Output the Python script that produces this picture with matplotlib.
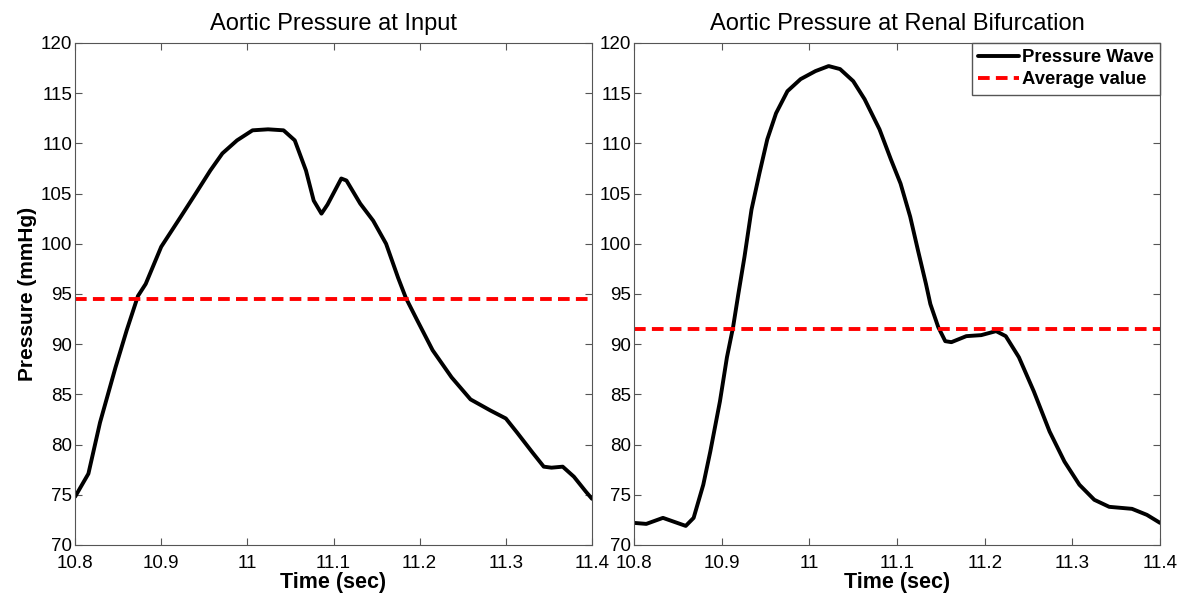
import numpy as np
import matplotlib
matplotlib.use("Agg")
import matplotlib.pyplot as plt

plt.rcParams['font.family'] = ['Liberation Sans', 'DejaVu Sans']

# pressure at input (left panel)
t_in = [10.8, 10.8155, 10.829, 10.847, 10.860, 10.873, 10.882, 10.900, 10.922, 10.940,
        10.957, 10.971, 10.988, 11.006, 11.024, 11.042, 11.055, 11.068, 11.077, 11.086,
        11.093, 11.109, 11.115, 11.131, 11.146, 11.161, 11.175, 11.184, 11.197, 11.215,
        11.237, 11.259, 11.282, 11.300, 11.313, 11.331, 11.344, 11.353, 11.366, 11.379,
        11.393, 11.4]
p_in = [74.8, 77.1, 82.2, 87.7, 91.4, 94.8, 96.0, 99.7, 102.6, 105.0,
        107.3, 109.0, 110.3, 111.3, 111.4, 111.3, 110.3, 107.3, 104.3, 103.0,
        103.9, 106.5, 106.3, 104.0, 102.3, 100.0, 96.6, 94.6, 92.4, 89.4,
        86.7, 84.5, 83.4, 82.6, 81.2, 79.2, 77.8, 77.7, 77.8, 76.8,
        75.3, 74.6]
avg_in = 94.5

# pressure at renal bifurcation (right panel)
t_rb = [10.8, 10.814, 10.833, 10.846, 10.859, 10.868, 10.879, 10.887, 10.898, 10.906,
        10.913, 10.919, 10.926, 10.934, 10.943, 10.952, 10.962, 10.975, 10.990, 11.007,
        11.022, 11.035, 11.050, 11.063, 11.080, 11.093, 11.104, 11.115, 11.124, 11.133,
        11.138, 11.147, 11.155, 11.162, 11.179, 11.196, 11.213, 11.224, 11.239, 11.256,
        11.274, 11.291, 11.308, 11.325, 11.342, 11.368, 11.385, 11.4]
p_rb = [72.2, 72.1, 72.7, 72.3, 71.9, 72.7, 76.0, 79.3, 84.3, 88.7,
        91.7, 95.0, 98.7, 103.4, 107.0, 110.4, 113.0, 115.2, 116.4, 117.2,
        117.7, 117.4, 116.2, 114.4, 111.4, 108.4, 106.0, 102.7, 99.3, 96.0,
        94.0, 91.7, 90.3, 90.2, 90.8, 90.9, 91.3, 90.8, 88.7, 85.3,
        81.3, 78.3, 76.0, 74.5, 73.8, 73.6, 73.0, 72.2]
avg_rb = 91.5

xticks = [10.8, 10.9, 11, 11.1, 11.2, 11.3, 11.4]
xlabels = ['10.8', '10.9', '11', '11.1', '11.2', '11.3', '11.4']
yticks = np.arange(70, 121, 5)

fig = plt.figure(figsize=(11.8, 5.96), dpi=100)
ax1 = fig.add_axes([0.0636, 0.0856, 0.4381, 0.8423])
ax2 = fig.add_axes([0.5373, 0.0856, 0.4458, 0.8423])

panels = [(ax1, t_in, p_in, avg_in, 'Aortic Pressure at Input'),
          (ax2, t_rb, p_rb, avg_rb, 'Aortic Pressure at Renal Bifurcation')]

for ax, t, p, avg, title in panels:
    ax.plot(t, p, color='black', lw=2.8, solid_joinstyle='round',
            solid_capstyle='round', label='Pressure Wave')
    ax.axhline(avg, color='red', lw=2.8, ls=(0, (3, 1.6)), label='Average value')
    ax.set_xlim(10.8, 11.4)
    ax.set_ylim(70, 120)
    ax.set_xticks(xticks)
    ax.set_xticklabels(xlabels)
    ax.set_yticks(yticks)
    ax.tick_params(direction='in', top=True, right=True, labelsize=13.5,
                   length=5, color='#555555')
    ax.tick_params(axis='x', pad=7)
    ax.tick_params(axis='y', pad=2)
    for s in ax.spines.values():
        s.set_color('#555555')
    ax.set_title(title, fontsize=17, pad=9)
    ax.set_xlabel('Time (sec)', fontsize=15.5, fontweight='bold', labelpad=0)

ax1.set_ylabel('Pressure (mmHg)', fontsize=15, fontweight='bold', labelpad=3)

leg = ax2.legend(loc='upper right', prop={'weight': 'bold', 'size': 13.3},
                 fancybox=False, framealpha=1, edgecolor='#555555',
                 borderaxespad=0, handlelength=2.2, handletextpad=0.15,
                 borderpad=0.35, labelspacing=0.25)
leg.get_frame().set_linewidth(1.0)

fig.savefig('out.png', dpi=100)
